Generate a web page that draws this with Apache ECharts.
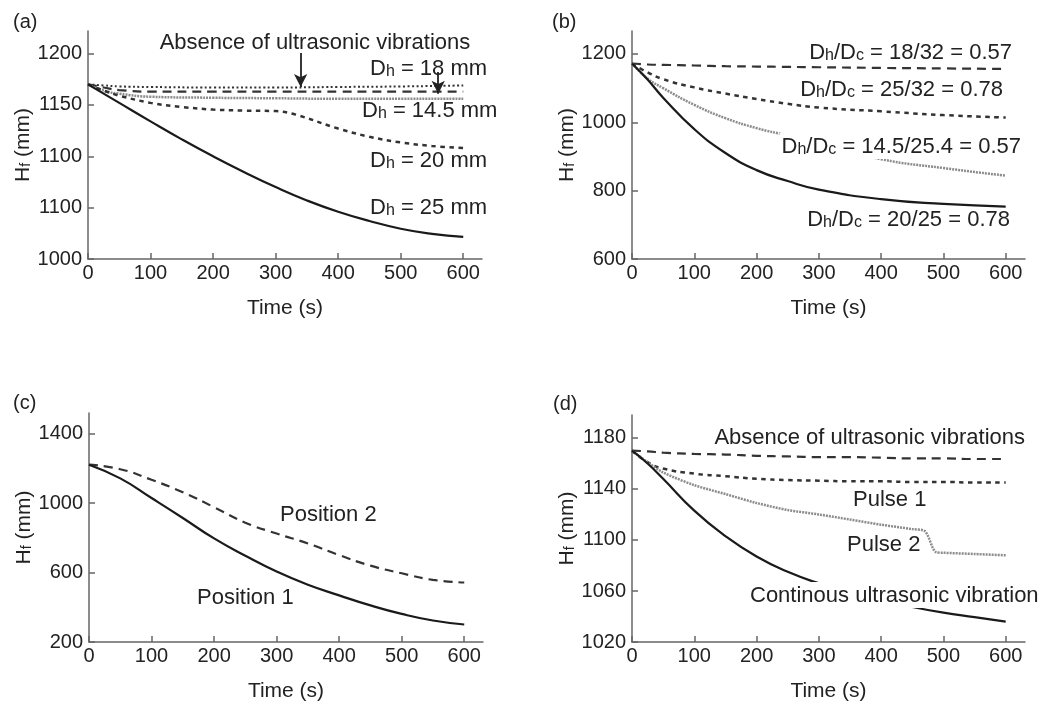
<!DOCTYPE html>
<html>
<head>
<meta charset="utf-8">
<script src="https://cdn.jsdelivr.net/npm/echarts@6/dist/echarts.min.js"></script>
<style>
html,body{margin:0;padding:0;background:#fff;}
#main{width:1055px;height:703px;}
</style>
</head>
<body>
<div id="main"></div>
<script>
// panel (a)
var aTimeTop = [0, 25, 50, 100, 200, 300, 400, 500, 600];
var aNone    = [1170, 1169, 1168, 1167.5, 1167, 1167, 1167.5, 1168, 1169];
var aDh18    = [1170, 1167, 1164.5, 1163, 1163, 1163, 1163, 1163, 1163];
var aDh145   = [1170, 1164, 1161, 1158, 1157, 1156.5, 1156, 1156, 1156];
var aTime20  = [0, 25, 50, 100, 150, 200, 250, 300, 330, 400, 450, 500, 550, 600];
var aDh20    = [1170, 1164, 1159, 1152, 1148, 1145.5, 1144.5, 1144, 1141, 1127, 1119, 1113.5, 1110, 1108];
var aTime25  = [0, 50, 100, 150, 200, 250, 300, 350, 400, 450, 500, 550, 600];
var aDh25    = [1170, 1152, 1134, 1116.5, 1100, 1084.5, 1070, 1057, 1046, 1037, 1029.5, 1024.5, 1021.5];
var aYTicks  = [1000, 1050, 1100, 1150, 1200];
var aYLabels = ['1000', '1100', '1100', '1150', '1200'];

// panel (b)
var bTime   = [0, 25, 50, 100, 150, 200, 250, 300, 400, 500, 600];
var b1832   = [1172, 1169, 1168, 1166, 1164, 1163, 1162, 1161, 1159, 1157.5, 1156];
var b2532   = [1172, 1146, 1126, 1102, 1084, 1068, 1054, 1043, 1032, 1021, 1014];
var b1454   = [1172, 1128, 1100, 1051, 1012, 983, 961, 938, 892, 866, 844];
var b2025   = [1172, 1125, 1072, 980, 910, 860, 828, 803, 775, 761, 753];
var bYTicks = [600, 800, 1000, 1200];

// panel (c)
var cTime   = [0, 50, 100, 150, 200, 250, 300, 350, 400, 450, 500, 550, 600];
var cPos1   = [1222, 1143, 1030, 915, 797, 697, 606, 530, 469, 411, 362, 324, 301];
var cPos2   = [1222, 1196, 1135, 1063, 977, 888, 825, 768, 701, 640, 596, 558, 543];
var cYTicks = [200, 600, 1000, 1400];

// panel (d)
var dTime   = [0, 25, 50, 100, 150, 200, 250, 300, 350, 400, 450, 500, 550, 600];
var dNone   = [1170, 1169.5, 1168.5, 1167.5, 1167, 1166, 1165.5, 1165, 1165, 1164.5, 1164, 1164, 1163.5, 1163.5];
var dPulse1 = [1170, 1161, 1156, 1152, 1150, 1148, 1147, 1146.5, 1146, 1146, 1145.5, 1145.5, 1145, 1145];
var dCont   = [1170, 1160, 1148, 1123, 1103, 1087, 1075, 1066, 1059, 1053, 1047.5, 1043, 1039.5, 1036];
var dTime2  = [0, 25, 50, 100, 150, 200, 250, 300, 350, 400, 450, 470, 488, 500, 550, 600];
var dPulse2 = [1170, 1161, 1153, 1143, 1136, 1129, 1123.5, 1120, 1116, 1112, 1108.5, 1107, 1090.5, 1090, 1089, 1088];
var dYTicks = [1020, 1060, 1100, 1140, 1180];

var xTicks = [0, 100, 200, 300, 400, 500, 600];

// arrows in panel (a), in data units
var aArrows = [[[340, 1200.5], [340, 1167.5]], [[560, 1182], [560, 1161]]];

var FONT = '"Liberation Sans", Arial, Helvetica, sans-serif';
var INK = '#222';
var AXIS = '#666';

var styles = {
    solid:  {color: '#1a1a1a', width: 2.2, type: 'solid'},
    dash:   {color: '#333', width: 2.2, type: [9, 6]},
    short:  {color: '#333', width: 2.5, type: [4.5, 4.5]},
    gray:   {color: '#8c8c8c', width: 2.5, type: [2, 1]},
    dot:    {color: '#333', width: 2, type: [2, 2.5]}
};

function pairs(t, v)
{
    var out = [];
    for (var i = 0; i < t.length; i++) {
        out.push([t[i], v[i]]);
    }
    return out;
}

function line(idx, t, v, st, sm)
{
    return {
        type: 'line',
        xAxisIndex: idx,
        yAxisIndex: idx,
        data: pairs(t, v),
        smooth: sm == null ? 0.5 : sm,
        showSymbol: false,
        symbol: 'none',
        silent: true,
        lineStyle: styles[st],
        z: 3
    };
}

function plain(v)
{
    return String(v);
}

function xAxis(idx, max)
{
    return {
        type: 'value', gridIndex: idx, min: 0, max: max,
        name: 'Time (s)', nameLocation: 'middle', nameGap: 39,
        nameTextStyle: {fontFamily: FONT, fontSize: 21, color: INK},
        axisLine: {onZero: false, lineStyle: {color: AXIS, width: 1.5}},
        axisTick: {inside: true, length: 6, lineStyle: {color: AXIS, width: 1.5}, customValues: xTicks},
        axisLabel: {fontFamily: FONT, fontSize: 20, color: INK, margin: 4, customValues: xTicks, formatter: plain},
        splitLine: {show: false}
    };
}

function yAxis(idx, min, max, ticks, fmt)
{
    return {
        type: 'value', gridIndex: idx, min: min, max: max,
        name: '{n|H}{s|f}{n| (mm)}', nameLocation: 'middle', nameGap: 52,
        nameTextStyle: {
            rich: {
                n: {fontFamily: FONT, fontSize: 21, color: INK, lineHeight: 24, verticalAlign: 'bottom'},
                s: {fontFamily: FONT, fontSize: 14, color: INK, lineHeight: 6, verticalAlign: 'bottom'}
            }
        },
        axisLine: {onZero: false, lineStyle: {color: AXIS, width: 1.5}},
        axisTick: {inside: true, length: 6, lineStyle: {color: AXIS, width: 1.5}, customValues: ticks},
        axisLabel: {fontFamily: FONT, fontSize: 20, color: INK, margin: 6, customValues: ticks, formatter: fmt || plain},
        splitLine: {show: false}
    };
}

var rich = {
    n: {fontFamily: FONT, fontSize: 22, color: INK, lineHeight: 24, verticalAlign: 'bottom'},
    s: {fontFamily: FONT, fontSize: 16, color: INK, lineHeight: 6, verticalAlign: 'bottom'}
};

function txt(x, y, text, align, bg)
{
    var st = {
        text: text, rich: rich, fill: INK,
        font: '22px ' + FONT,
        textAlign: align || 'left', textVerticalAlign: 'middle'
    };
    if (bg) {
        st.backgroundColor = '#fff';
        st.padding = [1, 2];
    }
    return {type: 'text', x: x, y: y, z: 100, silent: true, style: st};
}

function tag(x, y, text)
{
    return {type: 'text', x: x, y: y, z: 100, silent: true,
        style: {text: text, fill: INK, font: '20px ' + FONT, textAlign: 'left', textVerticalAlign: 'middle'}};
}

var chart = echarts.init(document.getElementById('main'));

var seriesA = [
    line(0, aTimeTop, aNone, 'dot'),
    line(0, aTimeTop, aDh18, 'dash'),
    line(0, aTimeTop, aDh145, 'gray'),
    line(0, aTime20, aDh20, 'short', 0.35),
    line(0, aTime25, aDh25, 'solid')
];
seriesA[0].markLine = {
    silent: true,
    symbol: ['none', 'arrow'],
    symbolSize: [10, 13],
    label: {show: false},
    lineStyle: {color: '#222', type: 'solid', width: 1.8},
    data: aArrows.map(function (a) { return [{coord: a[0]}, {coord: a[1]}]; })
};

var option = {
    backgroundColor: '#fff',
    animation: false,
    grid: [
        {left: 88, top: 31, width: 394, height: 228},
        {left: 632, top: 31, width: 393, height: 228},
        {left: 89, top: 413, width: 394, height: 231},
        {left: 632, top: 415, width: 393, height: 229}
    ],
    xAxis: [xAxis(0, 630), xAxis(1, 631), xAxis(2, 630), xAxis(3, 631)],
    yAxis: [
        yAxis(0, 1000, 1222, aYTicks, function (v) {
            var i = aYTicks.indexOf(v);
            return i < 0 ? '' : aYLabels[i];
        }),
        yAxis(1, 600, 1267, bYTicks),
        yAxis(2, 200, 1520, cYTicks),
        yAxis(3, 1020, 1198, dYTicks)
    ],
    series: seriesA.concat([
        line(1, bTime, b1832, 'dash'),
        line(1, bTime, b2532, 'short'),
        line(1, bTime, b1454, 'gray'),
        line(1, bTime, b2025, 'solid'),
        line(2, cTime, cPos2, 'dash'),
        line(2, cTime, cPos1, 'solid'),
        line(3, dTime, dNone, 'dash'),
        line(3, dTime, dPulse1, 'short'),
        line(3, dTime2, dPulse2, 'gray', 0.3),
        line(3, dTime, dCont, 'solid')
    ]),
    graphic: [
        tag(13, 22, '(a)'),
        tag(552, 22, '(b)'),
        tag(13, 403, '(c)'),
        tag(553, 404, '(d)'),

        txt(315, 42, '{n|Absence of ultrasonic vibrations}', 'center'),
        txt(370, 68, '{n|D}{s|h}{n| = 18 mm}'),
        txt(362, 110, '{n|D}{s|h}{n| = 14.5 mm}'),
        txt(370, 160, '{n|D}{s|h}{n| = 20 mm}'),
        txt(370, 207, '{n|D}{s|h}{n| = 25 mm}'),

        txt(1012, 52, '{n|D}{s|h}{n|/D}{s|c}{n| = 18/32 = 0.57}', 'right'),
        txt(1003, 89, '{n|D}{s|h}{n|/D}{s|c}{n| = 25/32 = 0.78}', 'right'),
        txt(1023, 146, '{n|D}{s|h}{n|/D}{s|c}{n| = 14.5/25.4 = 0.57}', 'right', true),
        txt(1010, 219, '{n|D}{s|h}{n|/D}{s|c}{n| = 20/25 = 0.78}', 'right'),

        txt(280, 514, '{n|Position 2}'),
        txt(197, 597, '{n|Position 1}'),

        txt(1025, 437, '{n|Absence of ultrasonic vibrations}', 'right'),
        txt(853, 499, '{n|Pulse 1}'),
        txt(847, 544, '{n|Pulse 2}'),
        txt(748, 595, '{n|Continous ultrasonic vibration}', 'left', true)
    ]
};

chart.setOption(option);
</script>
</body>
</html>
